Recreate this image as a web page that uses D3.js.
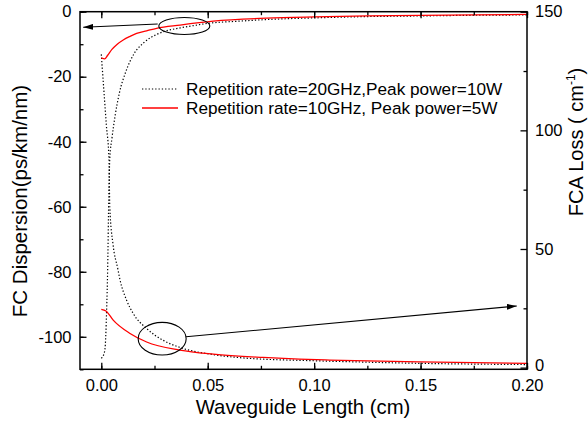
<!DOCTYPE html>
<html><head><meta charset="utf-8">
<script src="https://cdn.jsdelivr.net/npm/d3@7"></script>
<style>body{margin:0;background:#fff}text{font-family:Arial,"Liberation Sans",sans-serif}</style>
</head><body>
<svg id="c" width="588" height="432"></svg>
<script>
// FC dispersion (left axis), 20GHz / 10W (dotted)
const dispL20 = [0,0.0008,0.0017,0.0025,0.003,0.0035,0.004,0.005,0.0065,0.0085,0.0115,0.0155,0.02,0.026,0.03,0.037,0.045,0.05,0.065,0.078,0.1,0.125,0.15,0.175,0.2];
const dispV20 = [-106.6,-106,-104,-92,-79,-58,-45,-39,-32,-25,-18.5,-12.8,-9.5,-7.0,-6.0,-5.0,-4.1,-3.6,-2.9,-2.4,-1.9,-1.5,-1.3,-1.1,-1.0];
// FC dispersion (left axis), 10GHz / 5W (red)
const dispL10 = [0,0.0017,0.003,0.005,0.0075,0.0103,0.0135,0.0166,0.0213,0.026,0.037,0.0526,0.0776,0.1,0.125,0.15,0.175,0.2];
const dispV10 = [-14.2,-14.5,-13.4,-11.6,-10.0,-8.7,-7.6,-6.7,-5.9,-5.1,-4.1,-2.9,-2.0,-1.6,-1.3,-1.1,-0.95,-0.85];
// FCA loss (right axis), 20GHz / 10W (dotted)
const lossL20 = [0,0.0012,0.0024,0.0036,0.004,0.0055,0.0077,0.0088,0.0119,0.015,0.0213,0.0291,0.037,0.0526,0.068,0.1,0.125,0.15,0.175,0.2];
const lossV20 = [132,117,102,88,67.5,52,41.9,37,28.4,22.8,16.5,11.5,8.5,5.5,4.0,2.9,2.3,1.8,1.5,1.3];
// FCA loss (right axis), 10GHz / 5W (red)
const lossL10 = [0,0.0022,0.0056,0.0135,0.0213,0.0369,0.0526,0.076,0.093,0.1074,0.1495,0.2];
const lossV10 = [24.6,23.9,20,14.4,10.8,7.4,5.7,4.3,3.6,3.2,2.4,1.8];

const xTicks = [0,0.05,0.10,0.15,0.20];
const yLeftTicks = [0,-20,-40,-60,-80,-100];
const yRightTicks = [0,50,100,150];
const legendLabels = ["Repetition rate=20GHz,Peak power=10W","Repetition rate=10GHz, Peak power=5W"];

const svg = d3.select("#c");
const L=80, R=527, T=11.7, B=369.3;
const x = d3.scaleLinear().domain([-0.01,0.2]).range([L,R]);
const yl = d3.scaleLinear().domain([-110,0]).range([B,T]);
const yr = d3.scaleLinear().domain([-0.7,150]).range([B,T]);

function zip(a,b){return a.map((v,i)=>[v,b[i]]);}
const lineL = d3.line().x(d=>x(d[0])).y(d=>yl(d[1])).curve(d3.curveMonotoneX);
const lineR = d3.line().x(d=>x(d[0])).y(d=>yr(d[1])).curve(d3.curveMonotoneX);

const g = svg.append("g");
g.append("path").attr("d",lineL(zip(dispL20,dispV20))).attr("fill","none").attr("stroke","#000").attr("stroke-width",1.2).attr("stroke-dasharray","1.3,2");
g.append("path").attr("d",lineR(zip(lossL20,lossV20))).attr("fill","none").attr("stroke","#000").attr("stroke-width",1.2).attr("stroke-dasharray","1.3,2");
g.append("path").attr("d",lineL(zip(dispL10,dispV10))).attr("fill","none").attr("stroke","#ff0000").attr("stroke-width",1.3);
g.append("path").attr("d",lineR(zip(lossL10,lossV10))).attr("fill","none").attr("stroke","#ff0000").attr("stroke-width",1.3);

// axes
function styleAxis(sel){sel.select(".domain").remove();sel.selectAll("line").attr("stroke","#000").attr("stroke-width",1.3);sel.selectAll("text").attr("font-size",16.5).attr("fill","#000").style("font-family","Arial, 'Liberation Sans', sans-serif");}
const fmtInt = d=>String(d);
const xMinor = d3.range(0,0.2001,0.025);
svg.append("g").attr("transform",`translate(0,${B})`).call(d3.axisBottom(x).tickValues(xMinor).tickSize(-3.5).tickFormat("")).call(styleAxis);
svg.append("g").attr("transform",`translate(0,${B})`).call(d3.axisBottom(x).tickValues(xTicks).tickSize(-6.5).tickPadding(9.5).tickFormat(d3.format(".2f"))).call(styleAxis);
svg.append("g").attr("transform",`translate(0,${T})`).call(d3.axisTop(x).tickValues(xMinor).tickSize(-3.5).tickFormat("")).call(styleAxis);
svg.append("g").attr("transform",`translate(0,${T})`).call(d3.axisTop(x).tickValues(xTicks).tickSize(-6.5).tickFormat("")).call(styleAxis);

svg.append("g").attr("transform",`translate(${L},0)`).call(d3.axisLeft(yl).tickValues(d3.range(-110,1,10)).tickSize(-3.5).tickFormat("")).call(styleAxis);
svg.append("g").attr("transform",`translate(${L},0)`).call(d3.axisLeft(yl).tickValues(yLeftTicks).tickSize(-6.5).tickPadding(8.5).tickFormat(fmtInt)).call(styleAxis);
svg.append("g").attr("transform",`translate(${R},0)`).call(d3.axisRight(yr).tickValues([25,75,125]).tickSize(-3.5).tickFormat("")).call(styleAxis);
const ra = svg.append("g").attr("transform",`translate(${R},0)`).call(d3.axisRight(yr).tickValues(yRightTicks).tickSize(-6.5).tickPadding(8).tickFormat(fmtInt)).call(styleAxis);
ra.selectAll("text").filter(d=>d===0).attr("dy","0.2em");

svg.append("rect").attr("x",L).attr("y",T).attr("width",R-L).attr("height",B-T).attr("fill","none").attr("stroke","#000").attr("stroke-width",1.5);

// annotations
const defs = svg.append("defs");
defs.append("marker").attr("id","ah").attr("viewBox","0 0 10 6").attr("refX",10).attr("refY",3).attr("markerWidth",10).attr("markerHeight",6).attr("markerUnits","userSpaceOnUse").attr("orient","auto")
  .append("path").attr("d","M0,0L10,3L0,6Z").attr("fill","#000");
svg.append("ellipse").attr("cx",x(0.039)).attr("cy",yl(-4.4)).attr("rx",25.5).attr("ry",8.5).attr("fill","none").attr("stroke","#000").attr("stroke-width",1.1);
svg.append("line").attr("x1",x(0.0265)).attr("y1",yl(-3.8)).attr("x2",x(-0.0085)).attr("y2",yl(-4.8)).attr("stroke","#000").attr("stroke-width",1.1).attr("marker-end","url(#ah)");
svg.append("ellipse").attr("cx",x(0.0286)).attr("cy",yr(12.2)).attr("rx",24).attr("ry",16.3).attr("fill","none").attr("stroke","#000").attr("stroke-width",1.1);
svg.append("line").attr("x1",x(0.0398)).attr("y1",yr(13.0)).attr("x2",x(0.1952)).attr("y2",yr(26)).attr("stroke","#000").attr("stroke-width",1.1).attr("marker-end","url(#ah)");

// legend
const lg = svg.append("g");
lg.append("line").attr("x1",142).attr("x2",178).attr("y1",89).attr("y2",89).attr("stroke","#000").attr("stroke-width",1.2).attr("stroke-dasharray","1.3,2");
lg.append("text").attr("x",186).attr("y",95).attr("font-size",17.2).text(legendLabels[0]);
lg.append("line").attr("x1",142).attr("x2",178).attr("y1",108).attr("y2",108).attr("stroke","#ff0000").attr("stroke-width",1.3);
lg.append("text").attr("x",186).attr("y",114).attr("font-size",17.2).text(legendLabels[1]);

// titles
svg.append("text").attr("x",303).attr("y",414).attr("text-anchor","middle").attr("font-size",20.3).text("Waveguide Length (cm)");
svg.append("text").attr("transform","translate(27,201) rotate(-90)").attr("text-anchor","middle").attr("font-size",20.5).text("FC Dispersion(ps/km/nm)");
const rt = svg.append("text").attr("transform","translate(583,142) rotate(-90)").attr("text-anchor","middle").attr("font-size",20);
rt.append("tspan").text("FCA Loss ( cm");
rt.append("tspan").attr("font-size",12).attr("dy",-8).text("-1");
rt.append("tspan").attr("dy",8).text(")");
</script>
</body></html>
